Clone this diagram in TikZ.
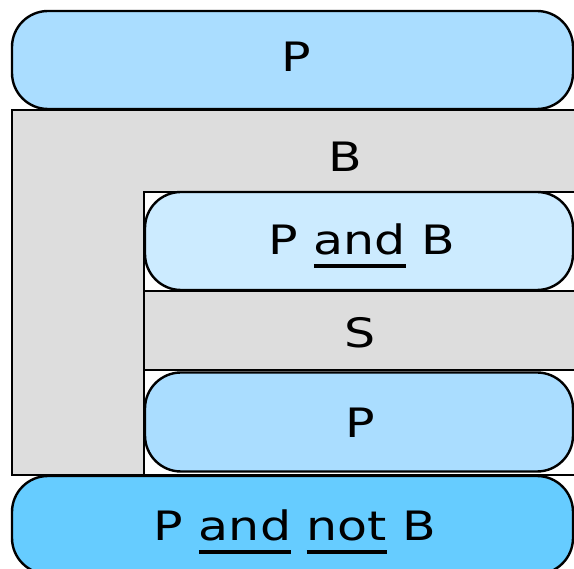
\documentclass[tikz,border=0pt]{standalone}
\usepackage{fontspec}
\usepackage{graphicx}
\setmainfont{DejaVu Sans}
\definecolor{pblue}{HTML}{AADDFF}
\definecolor{pbpale}{HTML}{CCEBFF}
\definecolor{pnotb}{HTML}{66CCFF}
\definecolor{frame}{HTML}{DDDDDD}
% underlined word with a heavy rule
\newcommand\ulword[1]{\setbox0\hbox{#1}\rlap{\rule[-13pt]{\wd0}{3.4pt}}\box0\relax}
% wide text as set in the figure
\newcommand\widetext[1]{\scalebox{1.21}[1]{#1}}
\tikzset{
  lbl/.style={font=\fontsize{40.5}{48}\selectfont, inner sep=0pt,
    text height=29.5pt, text depth=0pt},
  pill/.style={draw=black, line width=2.4pt, rounded corners=36pt, inner sep=0pt},
  band/.style={draw=black, line width=2.4pt, fill=frame}
}
\begin{document}
\begin{tikzpicture}[x=1pt,y=-1pt]
\useasboundingbox (0,0) rectangle (574,569);
\clip (0,0) rectangle (574,569);
\fill[white] (0,0) rectangle (574,569);
% outer frame B with its inner opening
\draw[band] (12,110) rectangle (640,475);
\draw[line width=2.4pt, fill=white] (144,192) rectangle (640,475);
\node[lbl] (blab) at (345,157) {\widetext{B}};
% sequence band S
\draw[band] (144,291) rectangle (640,370);
\node[lbl] (slab) at (360,333) {\widetext{S}};
% rounded boxes
\node[pill, fill=pblue, minimum width=561pt, minimum height=98pt] (top) at (292.5,60) {};
\node[pill, fill=pbpale, minimum width=428pt, minimum height=98pt] (pb) at (359,241) {};
\node[pill, fill=pblue, minimum width=428pt, minimum height=99pt] (plow) at (359,422) {};
\node[pill, fill=pnotb, minimum width=561pt, minimum height=98pt] (pnb) at (292.5,525) {};
% labels of the rounded boxes
\node[lbl] (toplab) at (296,57) {\widetext{P}};
\node[lbl] (pblab) at (362,240) {\widetext{P \ulword{and} B}};
\node[lbl] (plowlab) at (360,423) {\widetext{P}};
\node[lbl] (pnblab) at (295,526) {\widetext{P \ulword{and} \ulword{not} B}};
\end{tikzpicture}
\end{document}
